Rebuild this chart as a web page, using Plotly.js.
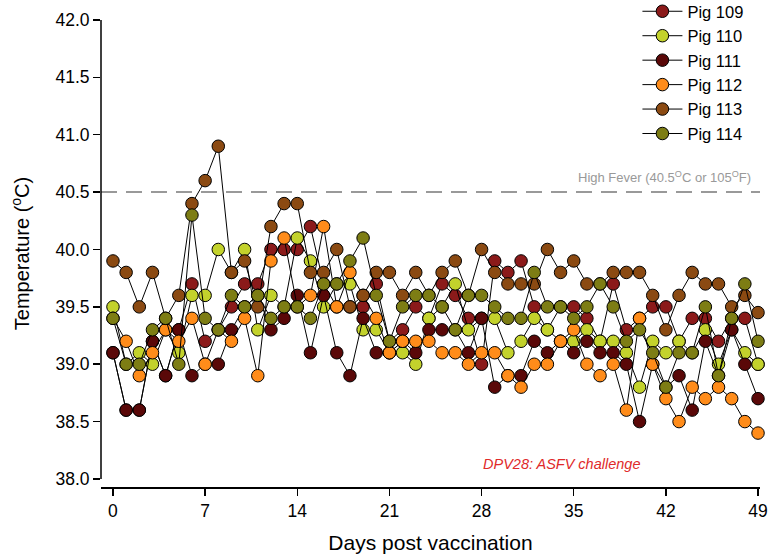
<!DOCTYPE html>
<html>
<head>
<meta charset="utf-8">
<script src="https://cdn.plot.ly/plotly-3.0.1.min.js"></script>
<style>html,body{margin:0;padding:0;background:#fff;} #chart{width:769px;height:556px;}</style>
</head>
<body>
<div id="chart"></div>
<script>
const days = Array.from({length: 50}, (_, i) => i);
const xTicks = [0, 7, 14, 21, 28, 35, 42, 49];
const yTicks = [38.0, 38.5, 39.0, 39.5, 40.0, 40.5, 41.0, 41.5, 42.0];
const pigNames = ["Pig 109", "Pig 110", "Pig 111", "Pig 112", "Pig 113", "Pig 114"];
const pigColors = ["#8b1a1a", "#c3d22c", "#5a0808", "#ff8c1a", "#8b4a12", "#7d7d14"];

const pig109 = [39.1,38.6,38.6,39.2,38.9,39.3,39.7,39.2,39.3,39.5,39.7,39.7,40.0,40.0,40.0,40.2,39.7,39.5,39.5,39.5,
                39.7,39.2,39.3,39.5,39.4,39.7,39.6,39.4,39.0,39.9,39.8,39.9,39.5,39.3,39.5,39.5,39.4,39.2,39.7,39.3,
                39.4,39.5,39.5,39.2,39.4,39.4,39.2,39.4,39.4,39.0];
const pig110 = [39.5,39.0,39.1,39.0,39.3,39.1,39.6,39.6,40.0,39.8,40.0,39.3,39.6,39.5,40.1,39.9,39.5,39.7,39.7,39.3,
                39.3,39.1,39.1,39.0,39.4,39.5,39.7,39.3,39.4,39.4,39.1,39.2,39.4,39.3,39.2,39.2,39.3,39.2,39.2,39.1,
                38.8,39.2,39.1,39.2,39.1,39.3,39.0,39.3,39.1,39.0];
const pig111 = [39.1,38.6,38.6,39.2,38.9,39.3,38.9,39.0,39.0,39.3,39.5,39.6,39.3,39.4,39.6,39.1,39.6,39.1,38.9,39.4,
                39.1,39.1,39.2,39.1,39.3,39.3,39.3,39.1,39.4,38.8,38.9,38.9,39.2,39.1,39.2,39.1,39.2,39.1,39.1,39.0,
                38.5,39.0,38.8,38.9,38.6,39.2,38.9,39.3,39.0,38.7];
const pig112 = [39.4,39.2,38.9,39.1,39.3,39.2,39.4,39.0,39.3,39.2,39.4,38.9,39.9,40.1,39.5,39.6,40.2,39.5,39.8,39.6,
                39.4,39.1,39.2,39.2,39.2,39.1,39.1,39.0,39.1,39.1,38.9,38.8,39.0,39.0,39.2,39.3,39.0,38.9,39.0,38.6,
                39.4,39.0,38.7,38.5,38.8,38.7,38.8,38.7,38.5,38.4];
const pig113 = [39.9,39.8,39.5,39.8,39.4,39.6,40.4,40.6,40.9,39.8,39.9,39.5,40.2,40.4,40.4,39.8,39.8,40.0,39.5,39.6,
                39.8,39.8,39.6,39.8,39.6,39.8,39.9,39.6,40.0,39.8,39.7,39.7,39.7,40.0,39.8,39.9,39.7,39.7,39.8,39.8,
                39.8,39.6,39.3,39.6,39.8,39.7,39.7,39.5,39.6,39.45];
const pig114 = [39.4,39.0,39.0,39.3,39.4,39.0,40.3,39.4,39.3,39.6,39.5,39.6,39.4,39.5,39.5,39.4,39.7,39.7,39.9,40.1,
                39.6,39.2,39.5,39.6,39.6,39.5,39.3,39.6,39.6,39.5,39.4,39.4,39.8,39.5,39.5,39.4,39.5,39.7,39.5,39.2,
                39.3,39.1,38.8,39.1,39.1,39.5,38.9,39.4,39.7,39.2];
const series = [pig109, pig110, pig111, pig112, pig113, pig114];

const feverLevel = 40.5;
const challengeLabelDay = 34.1;

const traces = series.map((vals, i) => ({
  x: days, y: vals, name: pigNames[i], type: "scatter", mode: "lines+markers",
  line: {color: "#000", width: 1},
  marker: {size: 12.5, color: pigColors[i], line: {color: "#000", width: 1}},
  cliponaxis: false
}));

const layout = {
  width: 769, height: 556,
  margin: {l: 101, r: 9, t: 20, b: 69, autoexpand: false},
  paper_bgcolor: "#fff", plot_bgcolor: "#fff",
  font: {family: "Arial, Liberation Sans, sans-serif", color: "#000", size: 16},
  showlegend: true,
  legend: {x: 0.814, y: 1.0556, xanchor: "left", yanchor: "top", bgcolor: "rgba(0,0,0,0)",
           font: {size: 16.5}, tracegroupgap: 0, itemwidth: 40},
  xaxis: {
    range: [-0.91, 49.15], tickvals: xTicks, ticktext: xTicks.map(String),
    showgrid: false, zeroline: false, showline: true, linecolor: "#000", linewidth: 1.5,
    ticks: "outside", ticklen: 7, tickwidth: 1.5, tickcolor: "#000",
    tickfont: {size: 17.5},
    title: {text: "Days post vaccination", font: {size: 21}, standoff: 16}
  },
  yaxis: {
    range: [37.93, 42.0], tickvals: yTicks, ticktext: yTicks.map(v => v.toFixed(1)),
    showgrid: false, zeroline: false, showline: false,
    ticks: "outside", ticklen: 7, tickwidth: 1.5, tickcolor: "#000",
    tickfont: {size: 17.5},
    title: {text: "Temperature (<sup>o</sup>C)", font: {size: 20}, standoff: 20}
  },
  shapes: [
    {type: "line", xref: "paper", yref: "y", x0: 0, x1: 0, y0: 38.0, y1: 42.0,
     line: {color: "#000", width: 1.5}},
    {type: "line", xref: "paper", yref: "y", x0: 0, x1: 1, y0: feverLevel, y1: feverLevel,
     line: {color: "#999", width: 2, dash: "16px,9px"}, layer: "below"}
  ],
  annotations: [
    {xref: "paper", yref: "y", x: 0.99, y: feverLevel, xanchor: "right", yanchor: "bottom", yshift: 5,
     text: "High Fever (40.5<sup>O</sup>C or 105<sup>O</sup>F)", showarrow: false,
     font: {size: 13, color: "#999"}},
    {xref: "x", yref: "y", x: challengeLabelDay, y: 38.0, yanchor: "bottom", xanchor: "center", yshift: 5,
     text: "<i>DPV28: ASFV challenge</i>", showarrow: false,
     font: {size: 14.5, color: "#e02a2a"}}
  ]
};

Plotly.newPlot("chart", traces, layout, {displayModeBar: false, staticPlot: true});
</script>
</body>
</html>
